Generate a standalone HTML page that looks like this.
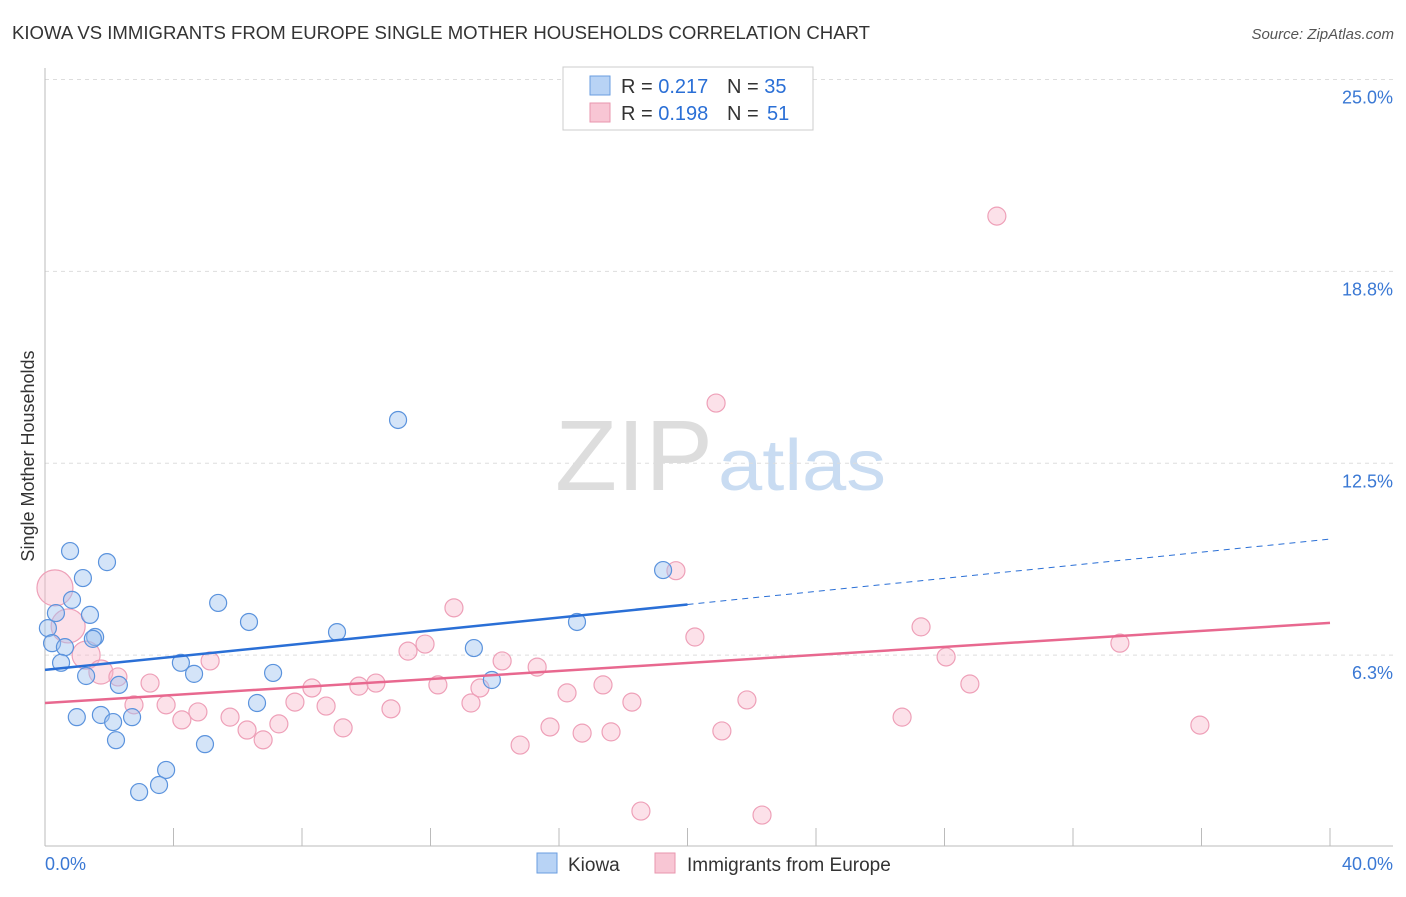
<!DOCTYPE html>
<html><head><meta charset="utf-8"><style>
body{margin:0;background:#fff;font-family:"Liberation Sans",sans-serif;}
svg text{font-family:"Liberation Sans",sans-serif;}
</style></head><body>
<svg id="c" width="1406" height="892">
<text x="12" y="39" font-size="18" fill="#333" textLength="858" lengthAdjust="spacingAndGlyphs">KIOWA VS IMMIGRANTS FROM EUROPE SINGLE MOTHER HOUSEHOLDS CORRELATION CHART</text>
<text x="1394" y="39" font-size="15" fill="#555" font-style="italic" text-anchor="end">Source: ZipAtlas.com</text>
<text x="555" y="490" font-size="100" fill="#ddd" textLength="158" lengthAdjust="spacingAndGlyphs" font-family="Liberation Serif">ZIP</text>
<text x="718" y="490" font-size="72" fill="#c9dcf2" textLength="168" lengthAdjust="spacingAndGlyphs">atlas</text>
<text transform="translate(34,456) rotate(-90)" font-size="18" fill="#333" text-anchor="middle">Single Mother Households</text>
<g id="grid"></g><g id="pts"></g><g id="lines"></g>
<g>
<rect x="563" y="67" width="250" height="63" fill="#fff" stroke="#ccc"/>
<rect x="590" y="76" width="20" height="19" fill="#b8d3f5" stroke="#6a9ee0"/>
<text x="621" y="93" font-size="20" fill="#333">R = <tspan fill="#2a6fd6">0.217</tspan></text>
<text x="727" y="93" font-size="20" fill="#333">N = <tspan fill="#2a6fd6">35</tspan></text>
<rect x="590" y="103" width="20" height="19" fill="#f8c6d4" stroke="#e896ae"/>
<text x="621" y="120" font-size="20" fill="#333">R = <tspan fill="#2a6fd6">0.198</tspan></text>
<text x="727" y="120" font-size="20" fill="#333">N = <tspan x="767" fill="#2a6fd6">51</tspan></text>
</g>
<g>
<rect x="537" y="853" width="20" height="20" fill="#b8d3f5" stroke="#6a9ee0"/>
<text x="568" y="871" font-size="19" fill="#333">Kiowa</text>
<rect x="655" y="853" width="20" height="20" fill="#f8c6d4" stroke="#e896ae"/>
<text x="687" y="871" font-size="19" fill="#333">Immigrants from Europe</text>
</g>
</svg>
<script>
const yTicks=[25.0,18.8,12.5,6.3];
const yTickPos=[25,18.75,12.5,6.25];
const xLabels=["0.0%","40.0%"];
const kiowaX=[0.78,1.93,1.18,0.84,0.34,1.40,0.09,0.22,0.62,1.56,1.49,0.50,1.28,2.30,0.99,1.74,2.12,2.71,2.21,3.77,3.55,2.93,4.23,4.64,5.39,6.35,7.10,6.60,4.98,9.09,10.99,13.35,13.91,16.56,19.24];
const kiowaY=[9.64,9.28,8.76,8.05,7.62,7.56,7.13,6.64,6.51,6.84,6.78,6.00,5.57,5.28,4.23,4.30,4.07,4.23,3.48,2.51,2.02,1.79,6.00,5.64,7.95,7.33,5.67,4.69,3.35,7.00,13.91,6.48,5.44,7.33,9.02];
const eurX=[0.31,0.72,1.28,1.74,2.27,3.27,2.77,3.77,4.26,4.76,5.14,5.76,6.29,6.79,7.28,7.78,8.31,8.75,9.28,9.77,10.30,10.77,11.30,11.83,12.23,12.73,13.26,13.54,14.23,14.79,15.32,15.72,16.25,16.72,17.37,17.62,18.27,18.55,19.64,20.23,20.89,21.07,21.85,22.32,26.68,27.27,28.05,28.79,29.63,33.46,35.95];
const eurY=[8.44,7.20,6.25,5.70,5.54,5.34,4.63,4.63,4.14,4.40,6.06,4.23,3.81,3.49,4.01,4.72,5.18,4.59,3.88,5.24,5.34,4.50,6.38,6.61,5.28,7.79,4.69,5.18,6.06,3.32,5.86,3.91,5.02,3.71,5.28,3.75,4.72,1.17,9.00,6.84,14.46,3.78,4.79,1.04,4.23,7.17,6.19,5.31,20.55,6.64,3.97];
const eurR=[18,17,14,12];
const kiowaTrend=[5.77,10.03];
const eurTrend=[4.69,7.30];
const NS="http://www.w3.org/2000/svg";
const X=v=>45+v*32.125, Y=v=>847-v*30.7;
function mk(p,t,a){const e=document.createElementNS(NS,t);for(const k in a)e.setAttribute(k,a[k]);p.appendChild(e);return e;}
const g=document.getElementById('grid');
yTicks.forEach((t,i)=>{
 const l=mk(g,'line',{x1:45,x2:1393,y1:Y(yTickPos[i]),y2:Y(yTickPos[i]),stroke:'#ddd','stroke-dasharray':'4,4'});
 
 
 const tx=mk(g,'text',{x:1393,y:Y(yTickPos[i])+24,'font-size':18,fill:'#3a78d4','text-anchor':'end'});
 tx.textContent=t.toFixed(1)+'%';
 
 
});
const ax=mk(g,'line',{x1:45,x2:1393,y1:846,y2:846,stroke:'#bbb'});


const ay=mk(g,'line',{x1:45,x2:45,y1:68,y2:846,stroke:'#bbb'});


for(let i=0;i<=10;i++){const tk=mk(g,'line',{x1:X(i*4),x2:X(i*4),y1:828,y2:846,stroke:'#bbb'});
 
 }
xLabels.forEach((s,i)=>{const tx=mk(g,'text',{x:i?1393:45,y:870,'font-size':18,fill:'#3a78d4','text-anchor':i?'end':'start'});tx.textContent=s;
 
 });
const pg=document.getElementById('pts');
eurX.forEach((v,i)=>{const c=mk(pg,'circle',{cx:X(v),cy:Y(eurY[i]),r:eurR[i]||9,fill:'rgba(248,180,200,0.4)',stroke:'#eea0b8','stroke-width':1.2});
 
 });
kiowaX.forEach((v,i)=>{const c=mk(pg,'circle',{cx:X(v),cy:Y(kiowaY[i]),r:8.5,fill:'rgba(160,196,240,0.45)',stroke:'#5b93dd','stroke-width':1.2});
 
 });
const lg=document.getElementById('lines');
const kAt=x=>kiowaTrend[0]+(kiowaTrend[1]-kiowaTrend[0])*x/40;
const b1=mk(lg,'line',{x1:X(0),y1:Y(kAt(0)),x2:X(20),y2:Y(kAt(20)),stroke:'#2a6fd6','stroke-width':2.5});


const b2=mk(lg,'line',{x1:X(20),y1:Y(kAt(20)),x2:X(40),y2:Y(kAt(40)),stroke:'#2a6fd6','stroke-width':1,'stroke-dasharray':'6,5'});


const p1=mk(lg,'line',{x1:X(0),y1:Y(eurTrend[0]),x2:X(40),y2:Y(eurTrend[1]),stroke:'#e8688f','stroke-width':2.5});


</script>
</body></html>
